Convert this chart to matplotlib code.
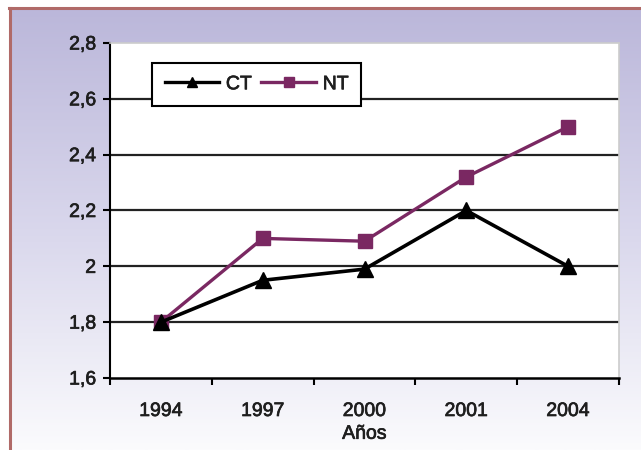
import matplotlib.pyplot as plt
import matplotlib.patheffects as pe
import numpy as np
from matplotlib.colors import LinearSegmentedColormap

years = ['1994', '1997', '2000', '2001', '2004']
ct = [1.80, 1.95, 1.99, 2.20, 2.00]
nt = [1.80, 2.10, 2.09, 2.32, 2.50]
yticks = [1.6, 1.8, 2.0, 2.2, 2.4, 2.6, 2.8]
ylabels = ['1,6', '1,8', '2', '2,2', '2,4', '2,6', '2,8']

plt.rcParams['font.family'] = ['Liberation Sans', 'DejaVu Sans']
fs = 14
txt_col = '#1e1e1e'
heavy = [pe.withStroke(linewidth=0.5, foreground=txt_col)]

fig = plt.figure(figsize=(6.41, 4.5), dpi=100)
fig.patch.set_facecolor('white')

# lavender-to-white backdrop inside the frame
bg = fig.add_axes([10 / 641, 0, 1 - 10 / 641, 441 / 450])
grad = np.linspace(0, 1, 256).reshape(-1, 1)
cmap = LinearSegmentedColormap.from_list('bg', ['#bbb7da', '#d9d7ec', '#fbfbfd'])
bg.imshow(grad, aspect='auto', cmap=cmap, extent=[0, 1, 0, 1], origin='upper')
bg.set_axis_off()

# frame lines on top and left
fig.add_artist(plt.Line2D([9 / 641, 1], [442 / 450, 442 / 450], color='#b06a68', lw=2.2))
fig.add_artist(plt.Line2D([9.5 / 641, 9.5 / 641], [0, 442 / 450], color='#b06a68', lw=2.2))

ax = fig.add_axes([110 / 641, 72 / 450, 509 / 641, 335 / 450])
ax.set_facecolor('white')
x = np.arange(len(years))

for y in yticks[1:-1]:
    ax.axhline(y, color='#222222', lw=1.6, zorder=1)

ax.plot(x, ct, color='black', lw=2.6, marker='^', markersize=11, label='CT', zorder=3)
ax.plot(x, nt, color='#7a2862', lw=2.4, marker='s', markersize=10, label='NT', zorder=2)

ax.set_xlim(-0.5, 4.5)
ax.set_ylim(1.6, 2.8)
ax.set_yticks(yticks)
ax.set_yticklabels(ylabels, fontsize=fs, color=txt_col)
ax.set_xticks(x)
ax.set_xticklabels(years, fontsize=fs, color=txt_col)
ax.tick_params(axis='x', length=0, pad=18)
ax.set_xticks(np.arange(-0.5, 5, 1), minor=True)
ax.tick_params(axis='x', which='minor', length=5, width=1.5, color='black')
ax.tick_params(axis='y', length=5, width=1.5, pad=5)
for lab in ax.get_xticklabels() + ax.get_yticklabels():
    lab.set_path_effects(heavy)

for side in ['top', 'right']:
    ax.spines[side].set_color('#cccccc')
    ax.spines[side].set_linewidth(1.2)
ax.spines['left'].set_linewidth(1.5)
ax.spines['bottom'].set_linewidth(1.8)

ax.text(2, -0.168, 'Años', transform=ax.get_xaxis_transform(), ha='center', va='center',
        fontsize=fs, color=txt_col, path_effects=heavy)

leg = ax.legend(loc='upper left', bbox_to_anchor=(152 / 641, 1 - 63 / 450),
                bbox_transform=fig.transFigure, borderaxespad=0, ncol=2, frameon=True,
                fancybox=False, edgecolor='black', fontsize=fs, handlelength=2.8,
                handletextpad=0.35, columnspacing=0.5, borderpad=0.65)
leg.get_frame().set_linewidth(1.5)
leg.get_frame().set_facecolor('white')
leg.get_frame().set_alpha(1)
for h in leg.legend_handles:
    h.set_markersize(7)
    h.set_linewidth(2.4)
for t in leg.get_texts():
    t.set_color(txt_col)
    t.set_path_effects(heavy)

fig.savefig('out.png', dpi=100)
